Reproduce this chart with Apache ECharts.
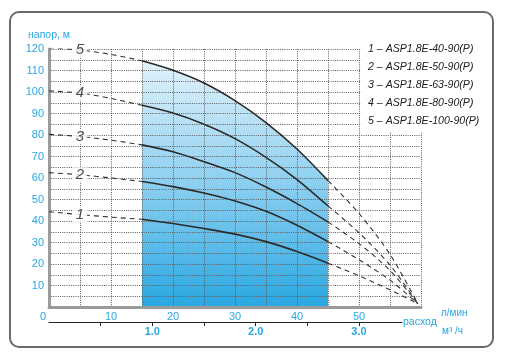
<!DOCTYPE html>
<html><head><meta charset="utf-8">
<script src="https://cdn.jsdelivr.net/npm/echarts@6/dist/echarts.min.js"></script>
<style>html,body{margin:0;padding:0;background:#fff}#c{width:506px;height:359px}</style>
</head><body><div id="c"></div>
<script>
// ---- data ----
const flowLpm = [0, 5, 10, 15, 20, 25, 30, 35, 40, 45, 50, 55, 59.5];
const head1 = [44.3, 43.0, 41.8, 40.8, 38.8, 36.5, 33.9, 30.4, 25.8, 20.4, 14.5, 8.0, 1.5];
const head2 = [62.5, 61.5, 60.0, 58.4, 56.0, 53.0, 49.3, 44.5, 38.0, 30.4, 22.0, 12.5, 1.5];
const head3 = [80.3, 79.3, 77.6, 75.4, 72.2, 67.6, 62.5, 55.8, 48.1, 39.6, 29.5, 17.0, 1.5];
const head4 = [100.5, 99.5, 97.0, 93.8, 90.2, 85.0, 78.3, 69.6, 59.3, 47.0, 34.5, 19.5, 1.5];
const head5 = [120.5, 119.5, 117.5, 114.5, 110.1, 104.2, 96.0, 85.8, 73.5, 58.8, 43.5, 24.5, 1.5];
const curveIds = ['1', '2', '3', '4', '5'];
const modelNames = ['ASP1.8E-40-90(P)', 'ASP1.8E-50-90(P)', 'ASP1.8E-63-90(P)', 'ASP1.8E-80-90(P)', 'ASP1.8E-100-90(P)'];
const workRange = [15, 45];
const xTickLabels = [0, 10, 20, 30, 40, 50];
const yTickLabels = [10, 20, 30, 40, 50, 60, 70, 80, 90, 100, 110, 120];
const m3hTicks = [0.5, 1, 1.5, 2, 2.5, 3];
const m3hLabels = [1, 2, 3];
const yTitle = 'напор, м';
const xTitle = 'расход';
const unitLpm = 'л/мин';
const unitM3h = 'м³ /ч';

// ---- build ----
const heads = [head1, head2, head3, head4, head5];
const BLUE = '#29a8e1';
const FONT = 'Liberation Sans, Arial, sans-serif';
const SM = 0.3;
const pts = (h, f) => flowLpm.map((q, i) => [q, h[i]]).filter(p => f(p[0]));
const series = [];
// operating area under the top curve
series.push({
  type: 'line', z: 1, smooth: SM, symbol: 'none', silent: true,
  data: pts(head5, q => q >= workRange[0] && q <= workRange[1]),
  lineStyle: { width: 0, opacity: 0 },
  areaStyle: { opacity: 1, color: new echarts.graphic.LinearGradient(0, 0, 0, 1, [
    { offset: 0, color: '#e2f2fb' }, { offset: 0.5, color: '#8ccff0' }, { offset: 1, color: '#2aa7e2' }]) }
});
heads.forEach((h, k) => {
  series.push({ type: 'line', z: 5, smooth: SM, symbol: 'none', silent: true,
    data: pts(h, q => q >= workRange[0] && q <= workRange[1]),
    lineStyle: { color: '#2b2b2b', width: 1.6 } });
  series.push({ type: 'line', z: 5, smooth: SM, symbol: 'none', silent: true,
    data: pts(h, q => q <= workRange[0]),
    lineStyle: { color: '#333', width: 1.1, type: [5, 4] } });
  series.push({ type: 'line', z: 5, smooth: SM, symbol: 'none', silent: true,
    data: pts(h, q => q >= workRange[1]),
    lineStyle: { color: '#333', width: 1.1, type: [5, 4] } });
});
series.push({
  type: 'scatter', z: 6, symbolSize: 0, silent: true,
  data: heads.map((h, k) => ({ value: [flowLpm[1], h[1]], name: curveIds[k] })),
  label: { show: true, position: 'inside', formatter: p => p.name, fontSize: 15, fontStyle: 'italic',
    fontFamily: FONT, color: '#222', backgroundColor: '#fff', padding: [0, 3] }
});

const gridLine = { show: true, lineStyle: { color: '#5e5e5e', width: 1, type: [1, 1.2] } };
const option = {
  animation: false,
  grid: [
    { left: 49, top: 49, width: 372, height: 258 },
    { left: 49, top: 300, width: 353, height: 22 }
  ],
  xAxis: [
    { type: 'value', gridIndex: 0, min: 0, max: 60, interval: 5, z: 3, offset: 4,
      axisLine: { show: true, lineStyle: { color: '#9a9a9a', width: 3 } },
      axisTick: { show: false }, splitLine: gridLine,
      axisLabel: { color: BLUE, fontSize: 11, fontFamily: FONT, margin: 0, showMaxLabel: false,
        formatter: v => xTickLabels.includes(v) ? (v === 0 ? '{z|0}' : String(v)) : '',
        rich: { z: { color: BLUE, fontSize: 11, fontFamily: FONT, padding: [0, 12, 0, 0] } } } },
    { type: 'value', gridIndex: 1, min: 0, max: 353 / (1000 / 60 * 6.2), z: 3,
      axisLine: { show: true, lineStyle: { color: '#222', width: 1 } },
      axisTick: { show: true, customValues: m3hTicks, length: 4, lineStyle: { color: '#222' } },
      splitLine: { show: false },
      axisLabel: { customValues: m3hLabels, color: BLUE, fontSize: 11, fontWeight: 'bold', fontFamily: FONT,
        margin: 4, formatter: v => Number(v).toFixed(1) } }
  ],
  yAxis: [
    { type: 'value', gridIndex: 0, min: 0, max: 120, interval: 5, z: 3, offset: 3,
      axisLine: { show: true, lineStyle: { color: '#9a9a9a', width: 3 } },
      axisTick: { show: false }, splitLine: gridLine,
      axisLabel: { color: BLUE, fontSize: 11, fontFamily: FONT, margin: 2,
        formatter: v => yTickLabels.includes(v) ? String(v) : '' } },
    { type: 'value', gridIndex: 1, show: false, min: 0, max: 1 }
  ],
  series: series,
  graphic: [
    { type: 'rect', z: 0, shape: { x: 10, y: 12, width: 483, height: 335, r: 9 },
      style: { fill: 'none', stroke: '#6a6a6a', lineWidth: 2 } },
    { type: 'rect', z: 10, shape: { x: 361, y: 44, width: 64, height: 88 }, style: { fill: '#fff' } },
    { type: 'text', z: 11, x: 28, y: 35, style: { text: yTitle, fill: BLUE, fontSize: 10.5, fontFamily: FONT, verticalAlign: 'middle' } },
    { type: 'text', z: 11, x: 403, y: 322, style: { text: xTitle, fill: BLUE, fontSize: 10.5, fontFamily: FONT, verticalAlign: 'middle' } },
    { type: 'text', z: 11, x: 441, y: 313, style: { text: unitLpm, fill: BLUE, fontSize: 10, fontFamily: FONT, verticalAlign: 'middle' } },
    { type: 'text', z: 11, x: 442, y: 331, style: { text: unitM3h, fill: BLUE, fontSize: 10, fontFamily: FONT, verticalAlign: 'middle' } }
  ].concat(modelNames.map((n, k) => ({
    type: 'text', z: 11, x: 368, y: 49 + 18 * k,
    style: { text: curveIds[k] + ' – ' + n, fill: '#222', fontSize: 10.6, fontStyle: 'italic', fontFamily: FONT, verticalAlign: 'middle' }
  })))
};
const chart = echarts.init(document.getElementById('c'), null, { renderer: 'canvas' });
chart.setOption(option);
</script></body></html>
